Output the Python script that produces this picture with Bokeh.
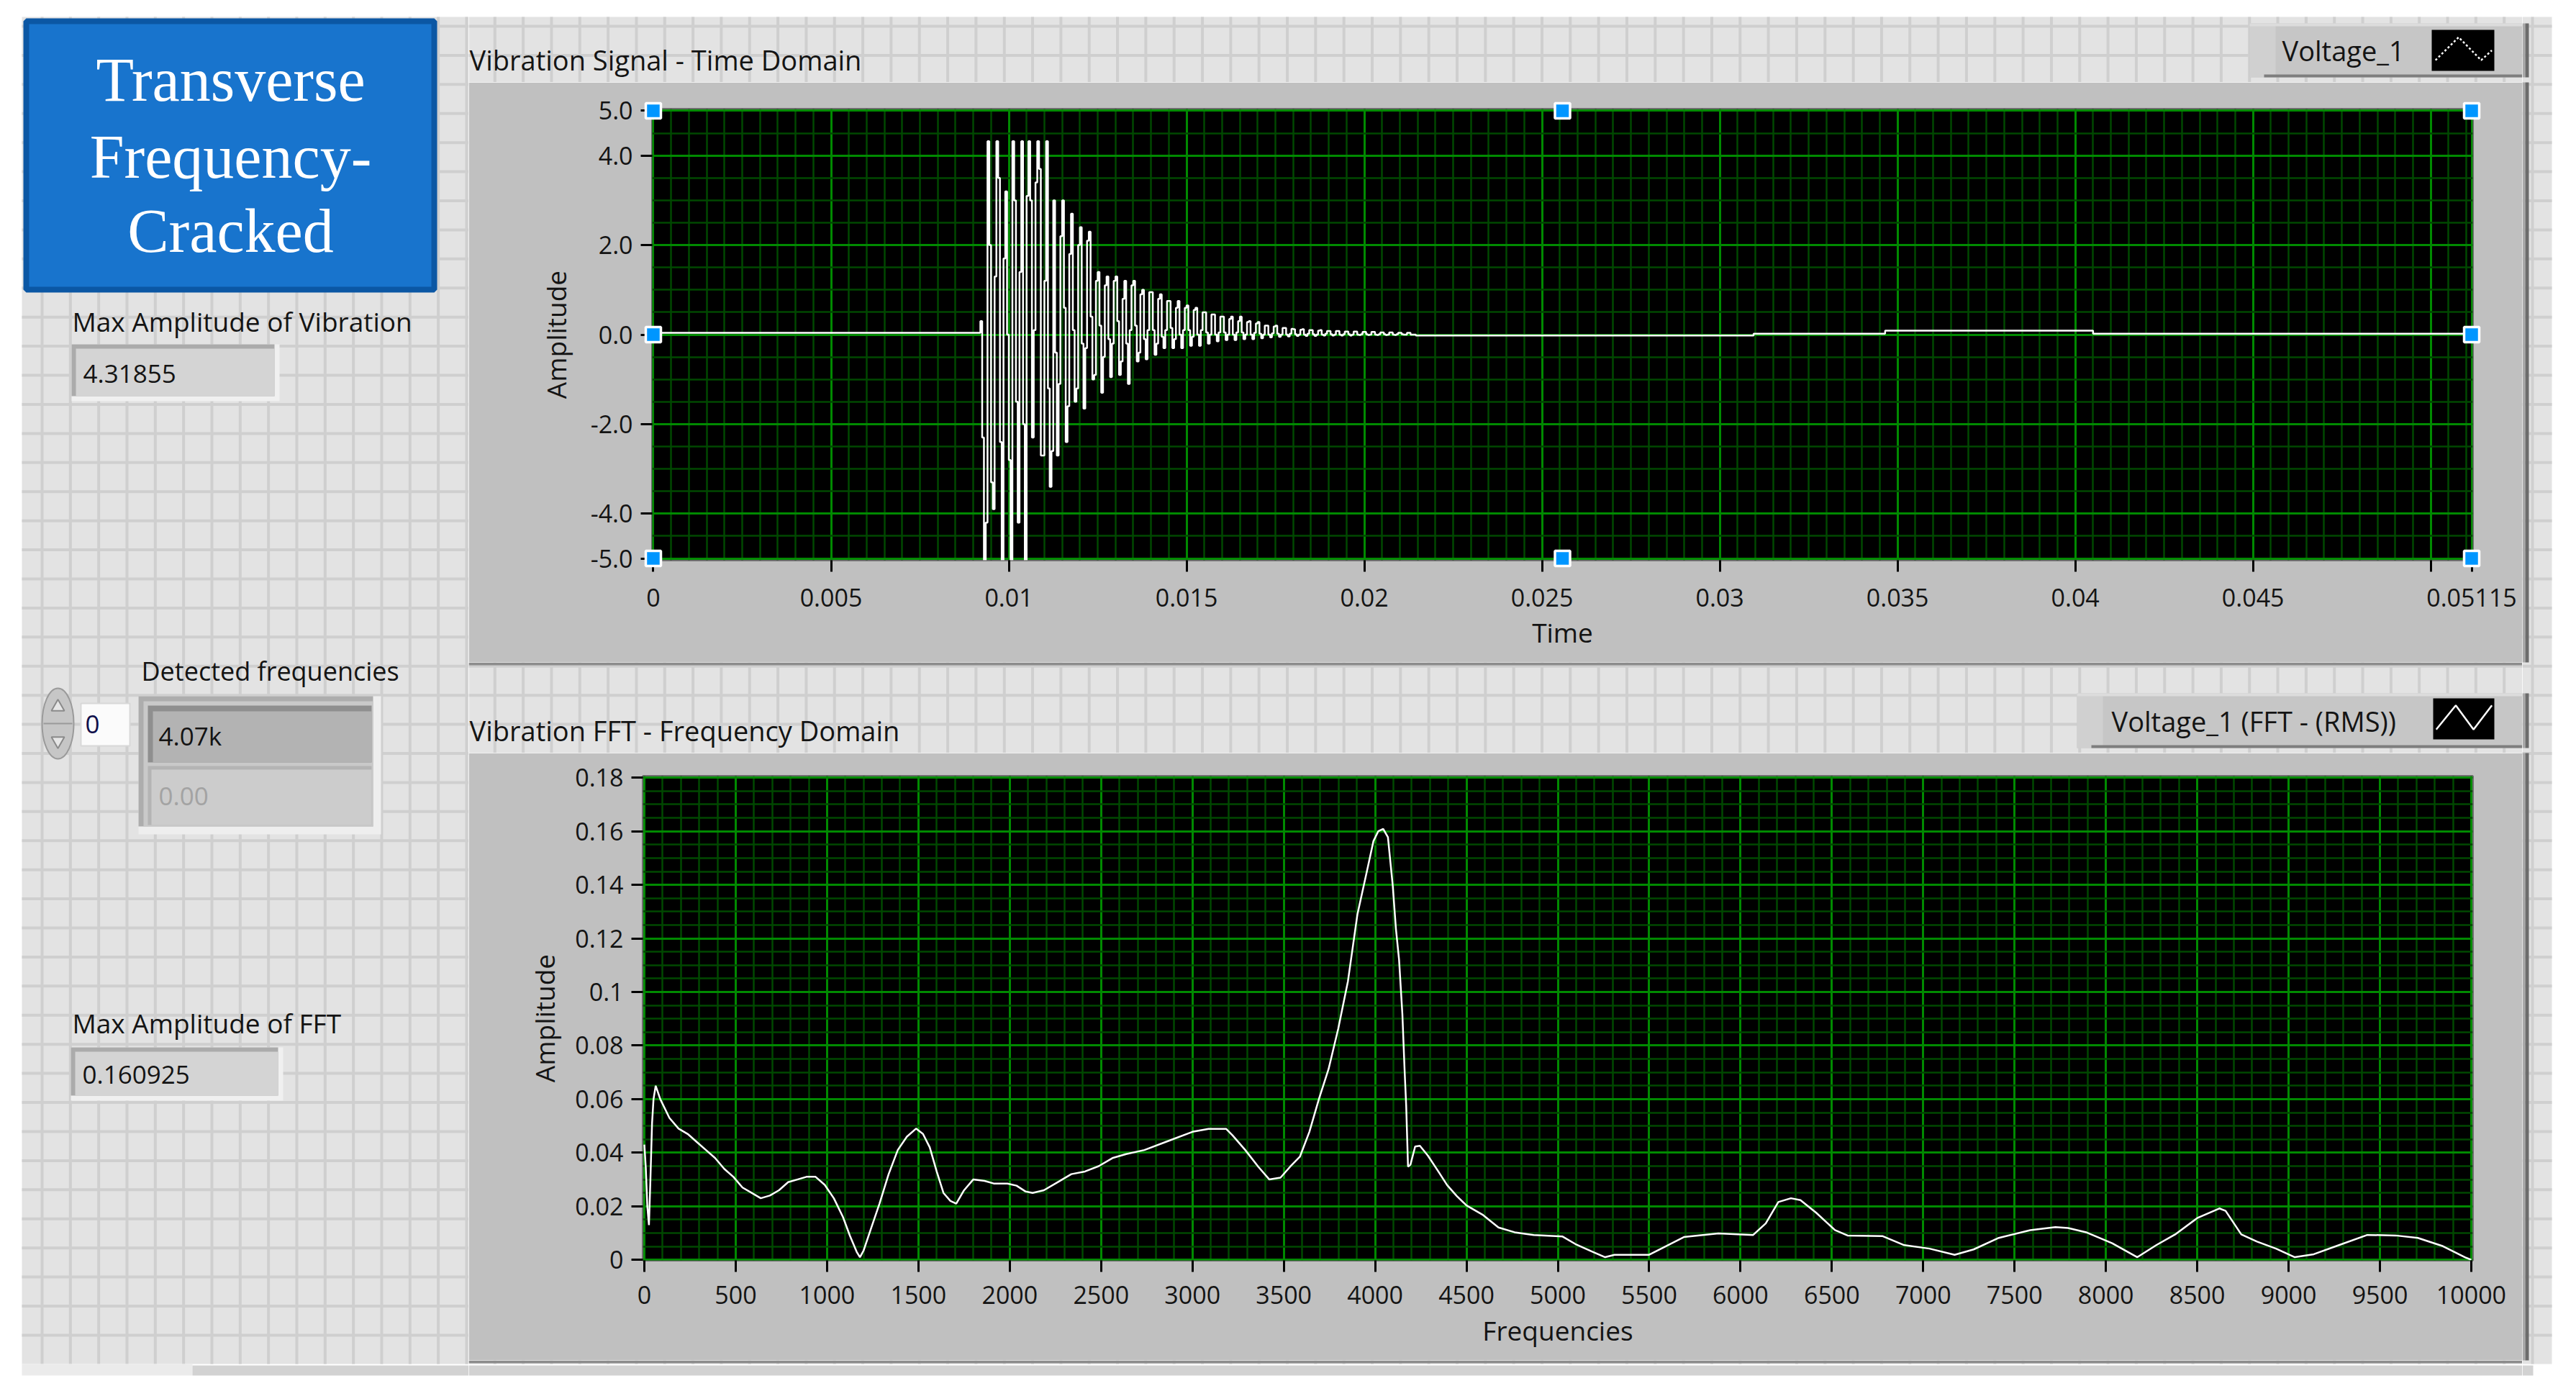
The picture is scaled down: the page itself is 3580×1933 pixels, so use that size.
import numpy as np
from bokeh.plotting import figure
from bokeh.models import Range1d, FixedTicker, Label
from bokeh.layouts import row, column
from bokeh.embed import file_html
from bokeh.resources import INLINE

# ------------------------------------------------------------------ data
# time-domain waveform (LabVIEW waveform: dt + Y array, 1024 samples)
SAMPLE_DT = 5e-5
PRE_LEVEL = 0.04
PRE_COUNT = 184
BURST = [
    0.30, -2.30, -6.40, -4.20, 4.32, 2.00, -3.30, -3.90, 1.30, 4.32,
    3.50, -2.40, -6.80, 1.70, 3.20, 0.00, -2.80, -6.00, 4.32, 3.00,
    -1.50, -4.20, 1.40, 4.32, -2.00, -6.20, 3.10, 4.32, 3.00, -2.30,
    0.10, 3.40, 4.32, 3.70, -2.70, -2.70, 1.20, 4.32, -1.20, -3.40,
    -2.60,
    3.00, -0.40, -2.70, -1.10, 2.20,
    3.00, 0.60, -2.40, -1.60, 1.80,
    2.70, 0.10, -1.50, -1.20, 2.00,
    2.40, -0.20, -1.65, -0.30, 2.10,
    2.30, 0.40, -1.00, -0.90, 1.20,
    1.40, 0.20, -1.30, -0.50, 1.10,
    1.30, -0.10, -0.95, -0.20, 1.20,
    1.30, 0.30, -0.90, -0.60, 0.80,
    1.20, -0.20, -1.10, 0.10, 1.10,
    1.20, 0.20, -0.60, -0.40, 0.90,
    1.00, -0.10, -0.55, 0.10, 0.95,
    0.95, 0.10, -0.45, -0.20, 0.80,
    0.90, -0.05, -0.30, 0.10, 0.75,
    0.75, 0.15, -0.30, -0.10, 0.60,
    0.75, 0.00, -0.30, 0.10, 0.60,
    0.65, 0.10, -0.25, -0.05, 0.55,
    0.60, 0.00, -0.25, 0.10, 0.50,
    0.50, 0.05, -0.20, 0.00, 0.45,
    0.45, 0.00, -0.15, 0.05, 0.40,
    0.40, 0.05, -0.12, 0.00, 0.35,
    0.40, 0.00, -0.12, 0.05, 0.30,
    0.40, 0.05, -0.10, 0.00, 0.28,
    0.30, 0.00, -0.10, 0.04, 0.25,
    0.28, 0.02, -0.08, 0.00, 0.20,
    0.20, 0.00, -0.06, 0.03, 0.18,
    0.20, 0.02, -0.05, 0.00, 0.15,
    0.15, 0.00, -0.04, 0.02, 0.13,
    0.12, 0.01, -0.03, 0.00, 0.11,
    0.12, 0.00, -0.03, 0.02, 0.10,
    0.10, 0.01, -0.03, 0.00, 0.09,
    0.10, 0.00, -0.02, 0.02, 0.08,
    0.08, 0.01, -0.02, 0.00, 0.08,
    0.08, 0.00, -0.02, 0.01, 0.07,
    0.07, 0.01, -0.02, 0.00, 0.07,
    0.07, 0.00, -0.01, 0.01, 0.06,
    0.06, 0.01, -0.01, 0.00, 0.06,
    0.06, 0.00, -0.01, 0.01, 0.05,
    0.05, 0.01, -0.01, 0.00, 0.05,
    0.05, 0.00, -0.01, 0.01, 0.04,
    0.04, 0.01, 0.00, 0.00, 0.04,
    0.04, 0.00, 0.00, 0.00,
]
TAIL_LEVELS = [-0.02, 0.02, 0.09, 0.02]
TAIL_COUNTS = [190, 74, 117, 214]

# FFT (RMS) spectrum
FFT_FREQ = [0, 8, 16, 25, 33, 42, 50, 62, 87, 137, 187, 237, 287, 337, 387, 437, 487,
            537, 587, 637, 687, 737, 787, 837, 887, 937, 987, 1037, 1087, 1125, 1162,
            1180, 1200, 1237, 1287, 1337, 1387, 1437, 1487, 1525, 1562, 1600, 1637,
            1675, 1707, 1750, 1800, 1862, 1912, 1987, 2037, 2087, 2125, 2187, 2262,
            2337, 2412, 2487, 2562, 2637, 2737, 2868, 3000, 3088, 3184, 3219, 3289,
            3360, 3421, 3482, 3535, 3588, 3640, 3693, 3745, 3798, 3851, 3903, 3956,
            3991, 4017, 4044, 4070, 4096, 4114, 4131, 4149, 4161, 4170, 4180, 4193,
            4219, 4245, 4289, 4342, 4394, 4447, 4500, 4587, 4675, 4763, 4868, 5026,
            5096, 5184, 5259, 5310, 5500, 5603, 5690, 5879, 6069, 6138, 6207, 6276,
            6328, 6414, 6517, 6586, 6776, 6896, 7034, 7172, 7276, 7414, 7586, 7724,
            7793, 7896, 8034, 8172, 8276, 8379, 8500, 8621, 8655, 8741, 8827, 8931,
            9034, 9138, 9276, 9431, 9586, 9707, 9845, 9965, 10000]
FFT_AMP = [0.043, 0.034, 0.020, 0.013, 0.030, 0.051, 0.060, 0.065, 0.060, 0.053, 0.049,
           0.047, 0.044, 0.041, 0.038, 0.034, 0.031, 0.027, 0.025, 0.023, 0.024, 0.026,
           0.029, 0.030, 0.031, 0.031, 0.028, 0.023, 0.016, 0.009, 0.003, 0.001, 0.0035,
           0.011, 0.021, 0.032, 0.041, 0.046, 0.049, 0.047, 0.042, 0.033, 0.025, 0.022,
           0.021, 0.026, 0.030, 0.0295, 0.0285, 0.0285, 0.0277, 0.0255, 0.025, 0.026,
           0.029, 0.032, 0.033, 0.035, 0.038, 0.0395, 0.041, 0.0444, 0.0478, 0.0489,
           0.0489, 0.0465, 0.041, 0.0348, 0.030, 0.0307, 0.0348, 0.0385, 0.0478, 0.0602,
           0.0712, 0.0863, 0.104, 0.129, 0.1454, 0.1564, 0.160, 0.1609, 0.1578, 0.140,
           0.1234, 0.112, 0.0918, 0.0712, 0.0575, 0.0348, 0.0355, 0.0423, 0.0426, 0.0389,
           0.0334, 0.0279, 0.0238, 0.0203, 0.0169, 0.0121, 0.0103, 0.0093, 0.0087, 0.0059,
           0.0032, 0.001, 0.0019, 0.0019, 0.0055, 0.0085, 0.0099, 0.0093, 0.0136, 0.0216,
           0.023, 0.0223, 0.0176, 0.0111, 0.0091, 0.0089, 0.0055, 0.0042, 0.0019, 0.0039,
           0.0082, 0.0111, 0.0122, 0.0119, 0.0102, 0.0062, 0.001, 0.0055, 0.0095, 0.0156,
           0.0192, 0.0183, 0.0095, 0.0068, 0.0042, 0.001, 0.0021, 0.0055, 0.0093, 0.0091,
           0.0082, 0.0051, 0.001, 0.0]

TIME_TICKS = [0, 0.005, 0.01, 0.015, 0.02, 0.025, 0.03, 0.035, 0.04, 0.045, 0.05, 0.05115]
TIME_TICK_LABELS = ["0", "0.005", "0.01", "0.015", "0.02", "0.025", "0.03", "0.035",
                    "0.04", "0.045", "", "0.05115"]
AMP_TICKS = [-5, -4, -2, 0, 2, 4, 5]
AMP_TICK_LABELS = ["-5.0", "-4.0", "-2.0", "0.0", "2.0", "4.0", "5.0"]
FREQ_TICKS = [0, 500, 1000, 1500, 2000, 2500, 3000, 3500, 4000, 4500, 5000, 5500, 6000,
              6500, 7000, 7500, 8000, 8500, 9000, 9500, 10000]
FREQ_TICK_LABELS = ["0", "500", "1000", "1500", "2000", "2500", "3000", "3500", "4000",
                    "4500", "5000", "5500", "6000", "6500", "7000", "7500", "8000", "8500",
                    "9000", "9500", "10000"]
FFT_TICKS = [0, 0.02, 0.04, 0.06, 0.08, 0.1, 0.12, 0.14, 0.16, 0.18]
FFT_TICK_LABELS = ["0", "0.02", "0.04", "0.06", "0.08", "0.1", "0.12", "0.14", "0.16", "0.18"]

TITLE_LINES = ["Transverse", "Frequency-", "Cracked"]
MAX_VIBRATION = "4.31855"
MAX_FFT = "0.160925"
DETECTED_FREQS = ["4.07k", "0.00"]
ARRAY_INDEX = "0"

# ------------------------------------------------------------------ style / layout
FONT = "Open Sans"
INK = "#141414"
LABEL_SIZE = "38px"
SIDE_LABEL_SIZE = "37px"
BG, GRIDLINE = "#e3e3e3", "#cfcfcf"
PANEL = (30, 3546, 23, 1895)
GX0, GDX, GY0, GDY = 58.0, 39.33, 36.0, 40.42
FRAME_GRAY = "#c0c0c0"
XL, XM, XR = 0, 651, 3505
PAGE_R, PAGE_T, PAGE_B = 3572, 0, 1925
Y_C1, Y_H2, Y_C2, Y_F = 114, 920, 1046, 1890


def canvas(x0, x1, y0, y1):
    p = figure(width=x1 - x0, height=y1 - y0,
               x_range=Range1d(x0, x1), y_range=Range1d(y1, y0),
               x_axis_location=None, y_axis_location=None,
               toolbar_location=None, output_backend="svg", min_border=0,
               background_fill_color="white", border_fill_color="white",
               outline_line_color=None, frame_align=False)
    p.grid.visible = False
    px0, px1 = max(x0, PANEL[0]), min(x1, PANEL[1])
    py0, py1 = max(y0, PANEL[2]), min(y1, PANEL[3])
    if px0 < px1 and py0 < py1:
        p.quad(left=[px0], right=[px1], top=[py0], bottom=[py1],
               fill_color=BG, line_color=None)
        k0 = int(np.ceil((px0 - GX0) / GDX)); k1 = int(np.floor((px1 - GX0) / GDX))
        xs = [GX0 + k * GDX for k in range(k0, k1 + 1)]
        p.segment(x0=xs, x1=xs, y0=[py0] * len(xs), y1=[py1] * len(xs),
                  line_color=GRIDLINE, line_width=4)
        k0 = int(np.ceil((py0 - GY0) / GDY)); k1 = int(np.floor((py1 - GY0) / GDY))
        ys = [GY0 + k * GDY for k in range(k0, k1 + 1)]
        p.segment(x0=[px0] * len(ys), x1=[px1] * len(ys), y0=ys, y1=ys,
                  line_color=GRIDLINE, line_width=4)
    return p


def box(p, x0, x1, y0, y1, color):
    p.quad(left=[x0], right=[x1], top=[y0], bottom=[y1], fill_color=color, line_color=None)


def txt(p, x, y, s, size=LABEL_SIZE, color=INK, align="left", font=FONT):
    p.add_layout(Label(x=x, y=y, text=s, text_font=font, text_font_size=size,
                       text_color=color, text_align=align, text_baseline="middle"))


def indicator(p, x0, x1, y0, y1, s, color=INK):
    box(p, x0, x1, y0, y1, "#f0f0f0")
    box(p, x0, x1 - 7, y0, y1 - 7, "#ababab")
    box(p, x0 + 6, x1 - 7, y0 + 6, y1 - 7, "#d4d4d4")
    txt(p, x0 + 16, (y0 + y1) / 2 + 1, s, size="35px", color=color)


def legend(p, x0, x1, y0, y1, s, tx, icon, fx, fy, dash):
    box(p, x0, x1, y0, y1, "#c6c6c6")
    box(p, x0, x0 + 36, y0, y1, "#d0d0d0")
    p.segment(x0=[x0], x1=[x1], y0=[y0 + 2], y1=[y0 + 2], line_color="#dcdcdc", line_width=4)
    p.segment(x0=[x0 + 20], x1=[x1], y0=[y1 - 2], y1=[y1 - 2], line_color="#7e7e7e", line_width=4)
    txt(p, tx, (y0 + y1) / 2, s)
    ix0, ix1, iy0, iy1 = icon
    box(p, ix0, ix1, iy0, iy1, "black")
    p.line([ix0 + f * (ix1 - ix0) for f in fx], [iy0 + f * (iy1 - iy0) for f in fy],
           line_color="white", line_width=2.5, line_dash=dash)


def overrides(ticks, labels):
    d = {}
    for t, l in zip(ticks, labels):
        d[t] = l
        d[str(t)] = l
    return d


def chart(x0, x1, y0, y1, black, xr, yr):
    bl, br, bt, bb = black
    p = figure(width=x1 - x0, height=y1 - y0, x_range=xr, y_range=yr,
               toolbar_location=None, output_backend="svg",
               min_border_left=bl - x0, min_border_right=x1 - br,
               min_border_top=bt - y0, min_border_bottom=y1 - bb,
               background_fill_color="black", border_fill_color=FRAME_GRAY,
               outline_line_color="#6e6e6e", outline_line_width=3, frame_align=False)
    for ax in (p.xaxis[0], p.yaxis[0]):
        ax.axis_line_color = None
        ax.major_tick_line_color = "black"
        ax.major_tick_line_width = 3
        ax.major_tick_in = 0
        ax.major_tick_out = 16
        ax.minor_tick_line_color = None
        ax.major_label_text_font = FONT
        ax.major_label_text_font_size = "34px"
        ax.major_label_text_color = INK
        ax.axis_label_text_font = FONT
        ax.axis_label_text_font_size = "37px"
        ax.axis_label_text_font_style = "normal"
        ax.axis_label_text_color = INK
    p.yaxis[0].major_label_standoff = 11
    for g in (p.xgrid[0], p.ygrid[0]):
        g.grid_line_color = "#008a00"
        g.grid_line_width = 3
        g.minor_grid_line_color = "#004800"
        g.minor_grid_line_width = 2.5
    return p


# ------------------------------------------------------------------ left panel
left = canvas(XL, XM, PAGE_T, PAGE_B)
left.quad(left=[36], right=[603], top=[29], bottom=[402], fill_color="#1874cd",
          line_color="#0b57a4", line_width=8)
for s, yc in zip(TITLE_LINES, [110, 217, 320]):
    txt(left, 320, yc, s, size="86px", color="white", align="center", font="Liberation Serif")
txt(left, 100, 446, "Max Amplitude of Vibration", size=SIDE_LABEL_SIZE)
indicator(left, 99, 388, 478, 557, MAX_VIBRATION)
txt(left, 196, 932, "Detected frequencies", size="36px")
# index spinner
left.ellipse(x=[80], y=[1005], width=[44], height=[98], fill_color="#c6c6c6",
             line_color="#9a9a9a", line_width=2)
left.segment(x0=[60], x1=[100], y0=[1005], y1=[1005], line_color="#9a9a9a", line_width=2)
left.scatter(x=[80], y=[982], marker="triangle", size=18, fill_color="#e6e6e6",
             line_color="#8a8a8a", line_width=2)
left.scatter(x=[80], y=[1029], marker="inverted_triangle", size=18, fill_color="#e6e6e6",
             line_color="#8a8a8a", line_width=2)
left.quad(left=[112], right=[180], top=[977], bottom=[1036], fill_color="#fbfbfb",
          line_color="#d8d8d8", line_width=2)
txt(left, 118, 1006, ARRAY_INDEX, size="35px", color="#10104a")
# array of detected frequencies
box(left, 192, 529, 967, 1159, "#eeeeee")
box(left, 192, 518, 967, 1148, "#adadad")
box(left, 199, 518, 974, 1148, "#c9c9c9")
box(left, 205, 516, 980, 1059, "#8f8f8f")
box(left, 212, 516, 988, 1059, "#b3b3b3")
box(left, 205, 516, 1064, 1146, "#b4b4b4")
box(left, 210, 516, 1069, 1146, "#cccccc")
txt(left, 220, 1022, DETECTED_FREQS[0], size="35px")
txt(left, 220, 1106, DETECTED_FREQS[1], size="35px", color="#a3a3a3")
txt(left, 100, 1421, "Max Amplitude of FFT", size=SIDE_LABEL_SIZE)
indicator(left, 98, 393, 1455, 1529, MAX_FFT)
box(left, 30, 267, 1895, 1911, "#ebebeb")
box(left, 267, XM, 1897, 1911, "#d2d2d2")

# ------------------------------------------------------------------ headers
hdr1 = canvas(XM, XR, PAGE_T, Y_C1)
txt(hdr1, 652, 82, "Vibration Signal - Time Domain")
legend(hdr1, 3126, XR, 32, 107, "Voltage_1", 3171, (3379, 3466, 41, 98),
       [0.06, 0.43, 0.79, 0.96], [0.74, 0.18, 0.74, 0.5], "3 3")

hdr2 = canvas(XM, XR, Y_H2, Y_C2)
hdr2.segment(x0=[XM], x1=[XR], y0=[Y_H2 + 2], y1=[Y_H2 + 2], line_color="#8c8c8c", line_width=4)
txt(hdr2, 652, 1014, "Vibration FFT - Frequency Domain")
legend(hdr2, 2886, XR, 963, 1039, "Voltage_1 (FFT - (RMS))", 2934, (3381, 3466, 970, 1027),
       [0.05, 0.37, 0.66, 0.96], [0.76, 0.17, 0.76, 0.17], "solid")

footer = canvas(XM, XR, Y_F, PAGE_B)
footer.segment(x0=[XM], x1=[XR], y0=[Y_F + 2], y1=[Y_F + 2], line_color="#8c8c8c", line_width=4)
box(footer, XM, XR, 1897, 1911, "#d2d2d2")

right = canvas(XR, PAGE_R, PAGE_T, PAGE_B)
for (a, b) in [(32, 107), (Y_C1, Y_H2), (963, 1039), (Y_C2, Y_F)]:
    box(right, XR, XR + 4, a, b, "#a9a9a9")
    box(right, XR + 4, XR + 9, a, b, "#6c6c6c")
box(right, XR, 3520, 1897, 1911, "#d2d2d2")

# ------------------------------------------------------------------ time-domain chart
volt = list(PRE_LEVEL for _ in range(PRE_COUNT)) + BURST
for lv, n in zip(TAIL_LEVELS, TAIL_COUNTS):
    volt += [lv] * n
t = np.arange(len(volt)) * SAMPLE_DT

p1 = chart(XM, XR, Y_C1, Y_H2, (906, 3436, 151, 778),
           Range1d(-0.00003, 0.05118), Range1d(-5.04, 5.04))
p1.xaxis[0].ticker = FixedTicker(ticks=TIME_TICKS,
                                 minor_ticks=[float(v) for v in np.arange(0, 0.0512, 0.0005)])
p1.yaxis[0].ticker = FixedTicker(ticks=AMP_TICKS,
                                 minor_ticks=[float(v) for v in np.arange(-5, 5.01, 0.5)])
p1.xaxis[0].major_label_overrides = overrides(TIME_TICKS, TIME_TICK_LABELS)
p1.yaxis[0].major_label_overrides = overrides(AMP_TICKS, AMP_TICK_LABELS)
p1.xaxis[0].axis_label = "Time"
p1.yaxis[0].axis_label = "Amplitude"
p1.xaxis[0].major_label_standoff = 23
p1.xaxis[0].axis_label_standoff = 7
p1.yaxis[0].axis_label_standoff = 20
p1.step(t, volt, mode="after", line_color="white", line_width=2.5)
hx = [TIME_TICKS[0], TIME_TICKS[-1] / 2, TIME_TICKS[-1]]
hy = [AMP_TICKS[-1], 0, AMP_TICKS[0]]
handles_x = [hx[0], hx[1], hx[2], hx[0], hx[2], hx[0], hx[1], hx[2]]
handles_y = [hy[0], hy[0], hy[0], hy[1], hy[1], hy[2], hy[2], hy[2]]
p1.scatter(handles_x, handles_y, marker="square", size=21, fill_color="#0096ff",
           line_color="white", line_width=3.5, level="overlay")

# ------------------------------------------------------------------ FFT chart
p2 = chart(XM, XR, Y_C2, Y_F, (893, 3436, 1078, 1751),
           Range1d(-8, 10008), Range1d(-0.0002, 0.1806))
p2.xaxis[0].ticker = FixedTicker(ticks=FREQ_TICKS,
                                 minor_ticks=[float(v) for v in np.arange(0, 10001, 100)])
p2.yaxis[0].ticker = FixedTicker(ticks=FFT_TICKS,
                                 minor_ticks=[float(v) for v in np.arange(0, 0.1801, 0.005)])
p2.xaxis[0].major_label_overrides = overrides(FREQ_TICKS, FREQ_TICK_LABELS)
p2.yaxis[0].major_label_overrides = overrides(FFT_TICKS, FFT_TICK_LABELS)
p2.xaxis[0].axis_label = "Frequencies"
p2.yaxis[0].axis_label = "Amplitude"
p2.xaxis[0].major_label_standoff = 19
p2.xaxis[0].axis_label_standoff = 8
p2.yaxis[0].axis_label_standoff = 14
p2.line(FFT_FREQ, FFT_AMP, line_color="white", line_width=2.5)

# ------------------------------------------------------------------ page
root = row(left, column(hdr1, p1, hdr2, p2, footer), right)
open("out.html", "w").write(file_html(root, INLINE))
